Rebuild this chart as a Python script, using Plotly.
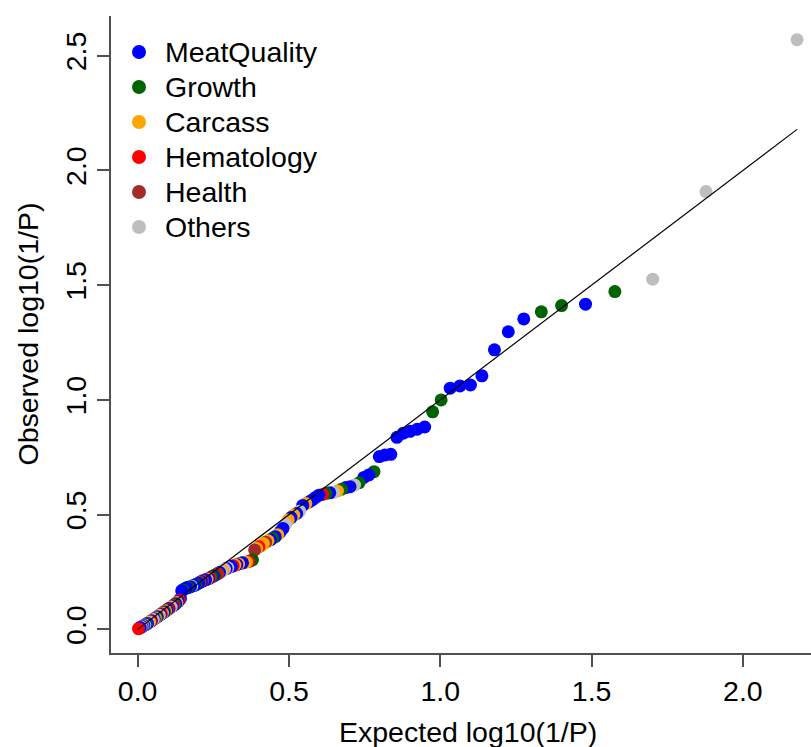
import numpy as np
import plotly.graph_objects as go

# Trait classes and their colours
categories = ["MeatQuality", "Growth", "Carcass", "Hematology", "Health", "Others"]
category_colors = ["#0000FF", "#006400", "#FFA500", "#FF0000", "#A52A2A", "#BEBEBE"]
class_codes = {"M": "MeatQuality", "G": "Growth", "C": "Carcass",
               "H": "Hematology", "L": "Health", "O": "Others"}

# Observed -log10(P), sorted from the strongest signal down
observed = [
    2.570, 1.908, 1.526, 1.472, 1.417, 1.411, 1.384, 1.353, 1.297, 1.218,
    1.105, 1.065, 1.061, 1.051, 1.000, 0.948, 0.882, 0.872, 0.863, 0.855,
    0.837, 0.763, 0.760, 0.753, 0.687, 0.673, 0.662, 0.639, 0.629, 0.622,
    0.618, 0.611, 0.603, 0.597, 0.595, 0.593, 0.588, 0.585, 0.575, 0.564,
    0.555, 0.548, 0.540, 0.515, 0.505, 0.498, 0.487, 0.477, 0.458, 0.440,
    0.425, 0.412, 0.404, 0.397, 0.390, 0.386, 0.380, 0.374, 0.365, 0.360,
    0.353, 0.346, 0.303, 0.298, 0.296, 0.293, 0.291, 0.290, 0.288, 0.285,
    0.282, 0.280, 0.277, 0.274, 0.272, 0.268, 0.265, 0.262, 0.257, 0.252,
    0.248, 0.243, 0.240, 0.236, 0.232, 0.229, 0.225, 0.221, 0.219, 0.216,
    0.214, 0.212, 0.208, 0.205, 0.201, 0.198, 0.195, 0.192, 0.190, 0.188,
    0.186, 0.184, 0.183, 0.181, 0.178, 0.175, 0.172, 0.168, 0.134, 0.128,
    0.121, 0.117, 0.112, 0.108, 0.104, 0.100, 0.097, 0.094, 0.091, 0.088,
    0.084, 0.081, 0.077, 0.074, 0.071, 0.068, 0.064, 0.061, 0.058, 0.055,
    0.052, 0.049, 0.046, 0.043, 0.040, 0.037, 0.034, 0.032, 0.029, 0.026,
    0.024, 0.021, 0.019, 0.017, 0.015, 0.012, 0.010, 0.008, 0.005, 0.003,
]

# Trait class of each test, same order as observed
trait_class = [
    "O", "O", "O", "G", "M", "G", "G", "M", "M", "M",
    "M", "M", "M", "M", "G", "G", "M", "M", "M", "M",
    "M", "M", "M", "M", "G", "M", "M", "G", "O", "M",
    "M", "G", "C", "O", "M", "G", "H", "M", "M", "M",
    "M", "C", "M", "O", "M", "C", "M", "C", "O", "M",
    "M", "C", "M", "G", "M", "C", "L", "C", "C", "H",
    "C", "L", "G", "G", "H", "C", "C", "M", "M", "C",
    "M", "C", "H", "M", "M", "O", "M", "O", "C", "O",
    "M", "L", "H", "G", "M", "G", "H", "M", "C", "M",
    "M", "L", "M", "L", "M", "M", "G", "M", "M", "O",
    "M", "M", "G", "M", "M", "M", "G", "M", "M", "H",
    "M", "C", "M", "G", "H", "M", "O", "C", "M", "H",
    "M", "C", "G", "M", "C", "H", "M", "O", "C", "M",
    "G", "C", "M", "O", "C", "M", "H", "C", "O", "M",
    "G", "M", "O", "M", "C", "M", "O", "M", "M", "H",
]

color_of = dict(zip(categories, category_colors))
point_colors = [color_of[class_codes[c]] for c in trait_class]

# Expected -log10(P) under the uniform null: rank / (n + 1)
n = len(observed)
expected = -np.log10(np.arange(1, n + 1) / (n + 1))

FONT = "Liberation Sans, Arial, Helvetica, sans-serif"
FS = 28.5
AXIS_GREY = "#505050"

fig = go.Figure()

# Points
fig.add_trace(go.Scatter(
    x=expected, y=observed, mode="markers",
    marker=dict(size=13, color=point_colors, line=dict(width=0)),
    showlegend=False, hoverinfo="skip",
))

# Identity line from the origin to the largest expected value
emax = float(expected.max())
fig.add_trace(go.Scatter(
    x=[0, emax], y=[0, emax], mode="lines",
    line=dict(color="black", width=1.2),
    showlegend=False, hoverinfo="skip",
))

axis_common = dict(
    showgrid=False, zeroline=False, showline=True,
    linecolor=AXIS_GREY, linewidth=1.6,
    ticks="outside", ticklen=12, tickwidth=1.6, tickcolor=AXIS_GREY,
    tickfont=dict(family=FONT, size=FS, color="black"),
    tickformat=".1f",
)

fig.update_xaxes(range=[-0.088, 2.225], tickvals=[0, 0.5, 1.0, 1.5, 2.0], **axis_common)
fig.update_yaxes(range=[-0.103, 2.673], tickvals=[0, 0.5, 1.0, 1.5, 2.0, 2.5],
                 tickangle=-90, **axis_common)

annotations = [
    dict(text="Expected log10(1/P)", xref="paper", yref="paper",
         x=0.51, y=0, xanchor="center", yanchor="middle", yshift=-79,
         showarrow=False, font=dict(family=FONT, size=FS, color="black")),
    dict(text="Observed log10(1/P)", xref="paper", yref="paper",
         x=0, y=0.5, xanchor="center", yanchor="middle", xshift=-84, textangle=-90,
         showarrow=False, font=dict(family=FONT, size=FS, color="black")),
]

# Legend in the top-left corner of the plot region
shapes = []
row_gap = 35
r = 7
for i, (name, col) in enumerate(zip(categories, category_colors)):
    cy = -36 - i * row_gap
    shapes.append(dict(
        type="circle", xref="paper", yref="paper",
        xsizemode="pixel", ysizemode="pixel",
        xanchor=0, yanchor=1,
        x0=28 - r, x1=28 + r, y0=cy - r, y1=cy + r,
        fillcolor=col, line=dict(width=0),
    ))
    annotations.append(dict(
        text=name, xref="paper", yref="paper", x=0, y=1,
        xanchor="left", yanchor="middle", xshift=52, yshift=cy,
        showarrow=False, font=dict(family=FONT, size=FS, color="black"),
    ))

fig.update_layout(
    width=811, height=747,
    margin=dict(l=111, r=0, t=16, b=94),
    paper_bgcolor="white", plot_bgcolor="white",
    showlegend=False,
    font=dict(family=FONT, size=FS, color="black"),
    annotations=annotations, shapes=shapes,
)

fig.write_html("out.html")
